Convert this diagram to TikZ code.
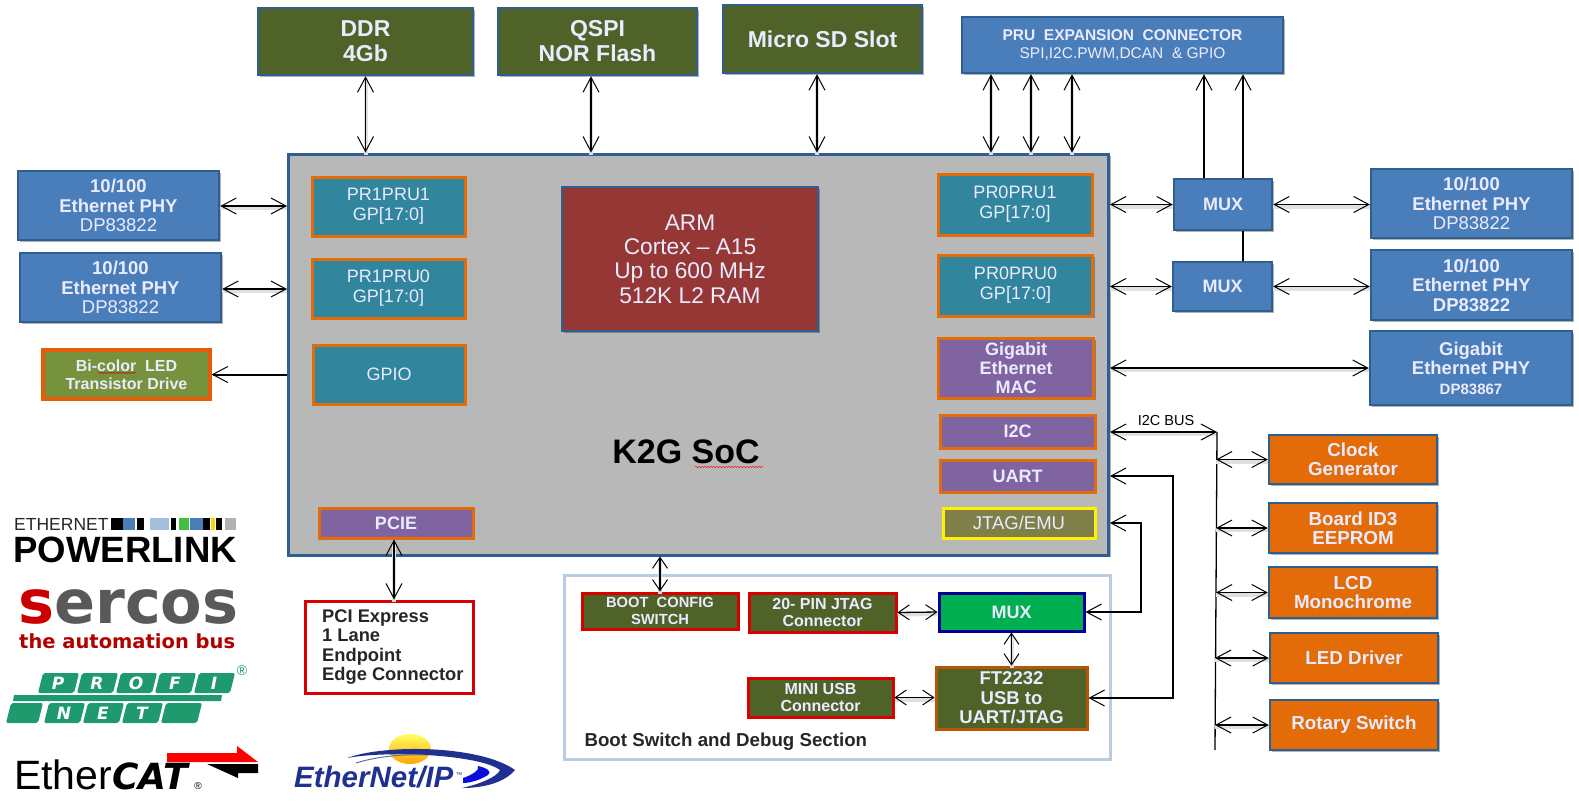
\documentclass[tikz,border=0pt]{standalone}
\usepackage{fontspec}
\setmainfont{Liberation Sans}
\newfontfamily\logofont{DejaVu Sans}
\usetikzlibrary{arrows.meta,shadows,decorations.pathmorphing}
\definecolor{cblue}{HTML}{4A7EBB}
\definecolor{cedge}{HTML}{2F5F90}
\definecolor{colive}{HTML}{4F6228}
\definecolor{cleaf}{HTML}{76923C}
\definecolor{cteal}{HTML}{31859C}
\definecolor{cbrick}{HTML}{953735}
\definecolor{cpurple}{HTML}{8064A2}
\definecolor{corange}{HTML}{E36C09}
\definecolor{cgray}{HTML}{B8B8B8}
\definecolor{cgreen}{HTML}{00B050}
\definecolor{ckhaki}{HTML}{7F7F4A}
\definecolor{cpale}{HTML}{B8CCE4}
\definecolor{cprofi}{HTML}{1F9A6F}
\definecolor{cnavy}{HTML}{1F3090}
\newcommand{\fs}[2]{\fontsize{#1}{#2}\selectfont}
\tikzset{
	wh/.style 2 args	= {minimum width=#1pt, minimum height=#2pt},
	bloc/.style			= {rectangle, draw, line width=2.5pt, align=center, inner sep=0pt, text=white!92!blue,
							drop shadow={shadow xshift=2pt, shadow yshift=-2pt, fill=black, opacity=.3}},
	topbox/.style		= {bloc, fill=colive, draw=cedge, font=\bfseries\fs{23}{25}},
	phybox/.style		= {bloc, fill=cblue, draw=cedge, font=\fs{18.5}{19.5}},
	prubox/.style		= {bloc, fill=cteal, draw=corange, line width=3pt, font=\fs{18}{20}},
	macbox/.style		= {bloc, fill=cpurple, draw=corange, line width=3pt, font=\fs{18}{19}},
	devbox/.style		= {bloc, fill=corange, draw=cedge, font=\bfseries\fs{18.8}{19}},
	dbgbox/.style		= {bloc, fill=colive, draw=red!85!black, line width=3pt, font=\bfseries\fs{16}{17}},
	biarrow/.style		= {<->, line width=1.3pt, preaction={draw=black!12, line width=4pt, transform canvas={yshift=-2pt}, -}},
	shortarrow/.style	= {biarrow, >={Straight Barb[length=11pt, width=15pt, line width=1pt]}},
	wire/.style			= {line width=1.3pt},
	>={Straight Barb[length=15pt, width=16pt, line width=1pt]},
}
\begin{document}
\begin{tikzpicture}[x=1pt, y=-1pt]
	\useasboundingbox (0,0) rectangle (1579,801);
	% SoC
	\node [bloc, fill=cgray, draw=cedge, wh={820}{401}, line width=3pt] (soc) at (698.5,354.5) {};
	\node [font=\bfseries\fs{34}{38}, text=black] (socname) at (686,452) {K2G SoC};
	\draw [red, decorate, decoration={snake, amplitude=.8pt, segment length=3pt}] (695,467) -- (763,467);
	% Section debug
	\node [rectangle, draw=cpale, line width=3pt, wh={546}{184}] (dbg) at (837,667) {};
	\node [font=\bfseries\fs{18.7}{20}, text=black!85, anchor=west] (dbgname) at (581,742) {Boot Switch and Debug Section};
	% Haut
	\node [topbox, wh={215}{67}] (ddr) at (365.5,41.5) {DDR\\4Gb};
	\node [topbox, wh={199}{67}] (qspi) at (597.5,41.5) {QSPI\\NOR Flash};
	\node [topbox, wh={199}{68}] (sd) at (822.5,39) {Micro SD Slot};
	\node [bloc, fill=cblue, draw=cedge, wh={321}{56}, font=\fs{15.5}{18}] (pru) at (1122.5,45) {\textbf{PRU\ \ EXPANSION\ \ CONNECTOR}\\SPI,I2C.PWM,DCAN\ \ \& GPIO};
	% Gauche
	\node [phybox, wh={201}{69}] (phyla) at (118.5,205.5) {\textbf{10/100}\\\textbf{Ethernet PHY}\\DP83822};
	\node [phybox, wh={201}{69}] (phylb) at (120.5,287.5) {\textbf{10/100}\\\textbf{Ethernet PHY}\\DP83822};
	\node [bloc, fill=cleaf, draw=corange!85!red, line width=3.5pt, wh={167}{49}, font=\bfseries\fs{16}{18}] (led) at (126.5,374.5) {Bi-color\ \ LED\\Transistor Drive};
	\draw [red!80!black, decorate, decoration={snake, amplitude=.7pt, segment length=3pt}] (98,373) -- (137,373);
	% Dans le SoC
	\node [prubox, wh={153}{59}] (pruba) at (388.5,206.5) {PR1PRU1\\GP[17:0]};
	\node [prubox, wh={153}{59}] (prubb) at (388.5,288.5) {PR1PRU0\\GP[17:0]};
	\node [prubox, wh={152}{59}] (gpio) at (389,374.5) {GPIO};
	\node [bloc, fill=cbrick, draw=cedge, wh={256}{144}, font=\fs{22.7}{24.3}] (arm) at (690,259) {ARM\\Cortex -- A15\\Up to 600 MHz\\512K L2 RAM};
	\node [macbox, wh={154}{30}] (pcie) at (396,523) {\textbf{PCIE}};
	\node [prubox, wh={154}{61}] (pruaa) at (1015,204.5) {PR0PRU1\\GP[17:0]};
	\node [prubox, wh={154}{61}] (pruab) at (1015.5,285.5) {PR0PRU0\\GP[17:0]};
	\node [macbox, wh={155}{60}, font=\bfseries\fs{18}{19}] (mac) at (1016,368) {Gigabit\\Ethernet\\MAC};
	\node [macbox, wh={155}{33}] (itc) at (1017.5,431.5) {\textbf{I2C}};
	\node [macbox, wh={155}{32}] (uart) at (1017.5,476) {\textbf{UART}};
	\node [bloc, fill=ckhaki, draw=yellow, line width=3pt, wh={152}{30}, font=\fs{18.5}{20}] (jtag) at (1019,523) {JTAG/EMU};
	% Droite
	\node [phybox, font=\bfseries\fs{18}{19}, wh={98}{51}] (muxa) at (1223,204.5) {MUX};
	\node [phybox, font=\bfseries\fs{18}{19}, wh={99}{49}] (muxb) at (1222.5,286.5) {MUX};
	\node [phybox, wh={201}{69}] (phyra) at (1471.5,203.5) {\textbf{10/100}\\\textbf{Ethernet PHY}\\DP83822};
	\node [phybox, wh={201}{70}] (phyrb) at (1471.5,285) {\textbf{10/100}\\\textbf{Ethernet PHY}\\\textbf{DP83822}};
	\node [phybox, wh={202}{74}] (phyrc) at (1471,368) {\textbf{Gigabit}\\\textbf{Ethernet PHY}\\\textbf{\fs{15}{19}DP83867}};
	% Bus I2C
	\node [devbox, wh={168}{49}] (clk) at (1353,459.5) {Clock\\Generator};
	\node [devbox, wh={168}{50}] (eep) at (1353,528) {Board ID3\\EEPROM};
	\node [devbox, wh={168}{51}] (lcd) at (1353,592.5) {LCD\\Monochrome};
	\node [devbox, wh={168}{50}] (drv) at (1354,658) {LED Driver};
	\node [devbox, wh={168}{50}] (rot) at (1354,725) {Rotary Switch};
	\coordinate (bustop) at (1217,432);
	\coordinate (busend) at (1215,750);
	\node [font=\fs{14.5}{15}, text=black] (busname) at (1166,420) {I2C BUS};
	% Debug
	\node [dbgbox, wh={156}{36}, font=\bfseries\fs{14.7}{17}] (boot) at (660,611) {BOOT\ \ CONFIG\\SWITCH};
	\node [dbgbox, wh={147}{39}] (pin) at (822.5,612.5) {20- PIN JTAG\\Connector};
	\node [bloc, fill=cgreen, draw=blue!60!black, line width=3pt, wh={145}{38}, font=\bfseries\fs{18}{19}] (muxc) at (1011.5,612) {MUX};
	\node [bloc, fill=colive, draw=corange!80!black, line width=3pt, wh={151}{62}, font=\bfseries\fs{18.5}{19.5}] (ftdi) at (1011.5,698) {FT2232\\USB to\\UART/JTAG};
	\node [dbgbox, wh={145}{39}] (usb) at (820.5,697.5) {MINI USB\\Connector};
	% PCI
	\node [rectangle, draw=red!85!black, fill=white, line width=3pt, wh={168}{92}] (pci) at (389,647) {};
	\node [anchor=west, align=left, inner sep=0pt, text=black!85, font=\bfseries\fs{18.3}{19.5}] (pcitxt) at (322,647) {PCI Express\\1 Lane\\Endpoint\\Edge Connector};
	% Fleches haut
	\draw [biarrow] (ddr.south)	-- (ddr.south |- soc.north);
	\draw [biarrow] (qspi.south -| 591,0)	-- (591,0 |- soc.north);
	\draw [biarrow] (sd.south -| 817,0)	-- (817,0 |- soc.north);
	\foreach \x in {991,1031,1072} {
		\draw [biarrow] (pru.south -| \x,0)	-- (soc.north -| \x,0);
	}
	\draw [->, wire] (muxa.north -| 1204,0)	-- (pru.south -| 1204,0);
	\draw [->, wire] (muxa.north -| 1243,0)	-- (pru.south -| 1243,0);
	\draw [wire] (muxa.south -| 1243,0)	-- (muxb.north -| 1243,0);
	% Fleches gauche
	\draw [biarrow] (phyla.east |- 0,206)	-- (soc.west |- 0,206);
	\draw [biarrow] (phylb.east |- 0,289)	-- (soc.west |- 0,289);
	\draw [->, line width=2pt] (soc.west |- led)	-- (led.east);
	\draw [biarrow] (pcie.south -| 394,0)	-- (pci.north -| 394,0);
	% Fleches droite
	\draw [biarrow] (soc.east |- muxa)	-- (muxa.west);
	\draw [biarrow] (soc.east |- muxb)	-- (muxb.west);
	\draw [biarrow] (muxa.east)	-- (muxa.east -| phyra.west);
	\draw [biarrow] (muxb.east)	-- (muxb.east -| phyrb.west);
	\draw [biarrow] (soc.east |- phyrc)	-- (phyrc.west);
	% Bus
	\draw [biarrow] (soc.east |- bustop)	-- (bustop);
	\draw [wire] (bustop)	-- (busend);
	\draw [biarrow] (clk.west -| 1216,0)	-- (clk.west);
	\draw [biarrow] (eep.west -| 1216,0)	-- (eep.west);
	\draw [biarrow] (lcd.west -| 1216,0)	-- (lcd.west);
	\draw [biarrow] (drv.west -| 1215,0)	-- (drv.west);
	\draw [biarrow] (rot.west -| 1215,0)	-- (rot.west);
	% Liaisons debug
	\draw [<->, wire] (soc.east |- uart)	-- (1173,476)	-- (1173,0 |- ftdi)	-- (ftdi.east);
	\draw [<->, wire] (soc.east |- jtag)	-- (1141,523)	-- (1141,0 |- muxc)	-- (muxc.east);
	\draw [shortarrow] (boot.north |- soc.south)	-- (boot.north);
	\draw [shortarrow] (pin.east)	-- (muxc.west);
	\draw [shortarrow] (usb.east)	-- (usb.east -| ftdi.west);
	\draw [shortarrow] (muxc.south)	-- (ftdi.north);
	% Logo Powerlink
	\node [anchor=base west, inner sep=0pt, text=black!85, font=\fs{17.5}{20}] (ethtxt) at (14,530) {ETHERNET};
	\foreach \xa/\xb/\coul in {111/123/black, 123/135/cblue, 137/144/black, 150/169/cblue!50, 171/176/black, 179/189/green!50!gray, 190/203/cblue, 203/210/black, 211/215/yellow!70!orange, 216/222/black, 225/236/gray!60} {
		\fill [\coul] (\xa,518) rectangle (\xb,530);
	}
	\node [anchor=base west, inner sep=0pt, text=black, font=\bfseries\fs{36.6}{40}] (pwrtxt) at (13,562) {POWERLINK};
	% Logo Sercos
	\node [anchor=base west, inner sep=0pt, font=\logofont\bfseries\fs{60.5}{60}] (seros) at (18,623) {\textcolor{red!80!black}{s}\textcolor{black!65}{ercos}};
	\node [anchor=base west, inner sep=0pt, text=red!70!black, font=\logofont\bfseries\fs{19.5}{20}] (sertxt) at (19,648) {the automation bus};
	% Logo Profinet
	\foreach \x/\lettre in {38/P,77/R,116/O,155/F,194/I} {
		\fill [cprofi, rounded corners=2pt] (\x,693) -- (\x+5,673) -- (\x+41,673) -- (\x+36,693) -- cycle;
		\path (\x+20,683) node [text=white, font=\logofont\bfseries\itshape\fs{17}{18}] {\lettre};
	}
	\fill [cprofi] (14,695) -- (222,695) -- (221,701) -- (13,701) -- cycle;
	\fill [cprofi, rounded corners=2pt] (6,723) -- (11,703) -- (43,703) -- (38,723) -- cycle;
	\foreach \x/\lettre in {44/N,83/E,122/T,161/{}} {
		\fill [cprofi, rounded corners=2pt] (\x,723) -- (\x+5,703) -- (\x+41,703) -- (\x+36,723) -- cycle;
		\path (\x+20,713) node [text=white, font=\logofont\bfseries\itshape\fs{17}{18}] {\lettre};
	}
	\node [text=cprofi, inner sep=0pt, font=\fs{14}{14}] (rprofi) at (242,671) {®};
	% Logo EtherCAT
	\node [anchor=base west, inner sep=0pt, text=black, font=\fs{41}{44}] (ethcat) at (14,789) {Ether{\logofont\bfseries\itshape\fs{36}{44}CAT}};
	\node [inner sep=0pt, text=black, font=\fs{10}{10}] (rcat) at (198,786) {®};
	\fill [red] (167,753) -- (237,753) -- (237,746) -- (258,762) -- (167,762) -- cycle;
	\fill [black] (207,764) -- (258,764) -- (258,773) -- (238,773) -- (238,778) -- cycle;
	% Logo Ethernet/IP
	\shade [top color=yellow!60!white, bottom color=orange!70!yellow] (410,749) ellipse [x radius=21, y radius=15];
	\fill [cnavy] (347,758) .. controls (385,744) and (480,745) .. (515,770) .. controls (505,782) and (485,788) .. (462,788) .. controls (480,784) and (497,777) .. (500,770) .. controls (480,755) and (390,750) .. (347,758) -- cycle;
	\fill [blue!70!cnavy] (463,778) .. controls (472,775) and (480,770) .. (478,766) .. controls (488,768) and (492,772) .. (488,775) .. controls (480,780) and (470,783) .. (463,783) -- cycle;
	\draw [cnavy!70, line width=1pt] (356,763) .. controls (375,757) and (400,754) .. (425,755);
	\node [anchor=base west, inner sep=0pt, text=cnavy, font=\bfseries\itshape\fs{29.5}{32}] (enip) at (294,787) {EtherNet/IP};
	\node [inner sep=0pt, text=cnavy, font=\fs{7}{8}] (tmip) at (459,775) {™};
\end{tikzpicture}
\end{document}
